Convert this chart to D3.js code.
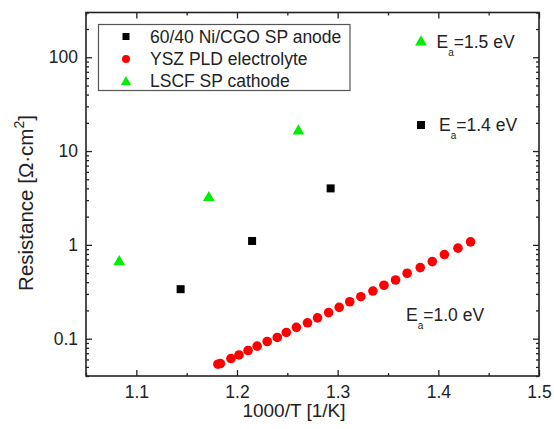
<!DOCTYPE html>
<html>
<head>
<meta charset="utf-8">
<script src="https://cdn.jsdelivr.net/npm/d3@7"></script>
<style>
  body { margin: 0; background: #fff; }
  text { font-family: Arial, "Liberation Sans", sans-serif; fill: #222; }
</style>
</head>
<body>
<div id="chart"></div>
<script>
// 1000/T [1/K] vs area specific resistance
const anodeX = [1.144, 1.215, 1.293];
const anodeY = [0.337, 1.10, 4.0];

const cathodeX = [1.083, 1.172, 1.261];
const cathodeY = [0.676, 3.26, 16.7];

const electrolyteX = [1.181, 1.1835, 1.194, 1.202, 1.211, 1.220, 1.230, 1.240, 1.249,
  1.259, 1.270, 1.280, 1.291, 1.3015, 1.312, 1.323, 1.335, 1.346, 1.3575, 1.369,
  1.382, 1.394, 1.406, 1.4195, 1.432];
const electrolyteY = [0.0534, 0.0543, 0.0614, 0.0671, 0.0748, 0.0832, 0.0933, 0.103, 0.1165,
  0.132, 0.1476, 0.1668, 0.1897, 0.2157, 0.2475, 0.280, 0.322, 0.371, 0.422, 0.498,
  0.572, 0.663, 0.788, 0.922, 1.077];

const xTicks = [1.1, 1.2, 1.3, 1.4, 1.5];
const xMinor = [1.05, 1.15, 1.25, 1.35, 1.45];
const yTicks = [0.1, 1, 10, 100];

const legendLabels = ["60/40 Ni/CGO SP anode", "YSZ PLD electrolyte", "LSCF SP cathode"];

const margin = { top: 12.5, right: 15, bottom: 53, left: 86 };
const W = 554, H = 429;
const width = W - margin.left - margin.right;
const height = H - margin.top - margin.bottom;
const fs = 17.5;

const svg = d3.select("#chart")
    .append("svg")
    .attr("width", W)
    .attr("height", H);

const g = svg.append("g")
    .attr("transform", `translate(${margin.left},${margin.top})`);

const x = d3.scaleLinear().domain([1.05, 1.5]).range([0, width]);
const y = d3.scaleLog().domain([0.04, 300]).range([height, 0]);

// minor ticks for the log axis: 2..9 of every decade
const yMinor = [];
[0.01, 0.1, 1, 10, 100].forEach(d => {
    for (let k = 2; k <= 9; k++) {
        const v = d * k;
        if (v >= 0.04 && v <= 300) yMinor.push(v);
    }
});

const fmt = d => (d < 1 ? d3.format(".1f")(d) : d3.format("d")(d));

// axes, ticks pointing inward
g.append("g")
    .attr("class", "axis")
    .attr("transform", `translate(0,${height})`)
    .call(d3.axisBottom(x).tickValues(xTicks).tickSize(-6).tickPadding(10).tickFormat(d3.format(".1f")));
g.append("g")
    .attr("class", "axis minor")
    .attr("transform", `translate(0,${height})`)
    .call(d3.axisBottom(x).tickValues(xMinor).tickSize(-3).tickFormat(""));
g.append("g")
    .attr("class", "axis")
    .call(d3.axisTop(x).tickValues(xTicks).tickSize(-6).tickFormat(""));
g.append("g")
    .attr("class", "axis minor")
    .call(d3.axisTop(x).tickValues(xMinor).tickSize(-3).tickFormat(""));

g.append("g")
    .attr("class", "axis")
    .call(d3.axisLeft(y).tickValues(yTicks).tickSize(-6).tickPadding(8).tickFormat(fmt));
g.append("g")
    .attr("class", "axis minor")
    .call(d3.axisLeft(y).tickValues(yMinor).tickSize(-3).tickFormat(""));
g.append("g")
    .attr("class", "axis")
    .attr("transform", `translate(${width},0)`)
    .call(d3.axisRight(y).tickValues(yTicks).tickSize(-6).tickFormat(""));
g.append("g")
    .attr("class", "axis minor")
    .attr("transform", `translate(${width},0)`)
    .call(d3.axisRight(y).tickValues(yMinor).tickSize(-3).tickFormat(""));

g.selectAll(".axis .domain").remove();
g.selectAll(".axis line").attr("stroke", "#222").attr("stroke-width", 1.3);
g.selectAll(".axis text").attr("font-size", fs).style("fill", "#222");

g.append("rect")
    .attr("width", width)
    .attr("height", height)
    .attr("fill", "none")
    .attr("stroke", "#222")
    .attr("stroke-width", 1.6);

// axis titles
svg.append("text")
    .attr("x", 294)
    .attr("y", 417)
    .attr("text-anchor", "middle")
    .attr("font-size", 19)
    .text("1000/T [1/K]");

const yt = svg.append("text")
    .attr("transform", "translate(33,203) rotate(-90)")
    .attr("text-anchor", "middle")
    .attr("font-size", 20.5);
yt.append("tspan").text("Resistance [Ω·cm");
yt.append("tspan").attr("dy", -9).attr("font-size", 14).text("2");
yt.append("tspan").attr("dy", 9).text("]");

const tri = d3.symbol().type(d3.symbolTriangle);

// data
g.selectAll(".elec")
    .data(electrolyteX)
    .enter()
    .append("circle")
    .attr("cx", d => x(d))
    .attr("cy", (d, i) => y(electrolyteY[i]))
    .attr("r", 4.8)
    .attr("fill", "#ff0000");

g.selectAll(".anode")
    .data(anodeX)
    .enter()
    .append("rect")
    .attr("x", d => x(d) - 4)
    .attr("y", (d, i) => y(anodeY[i]) - 4)
    .attr("width", 8)
    .attr("height", 8)
    .attr("fill", "#000");

g.selectAll(".cath")
    .data(cathodeX)
    .enter()
    .append("path")
    .attr("d", tri.size(60))
    .attr("transform", (d, i) => `translate(${x(d)},${y(cathodeY[i]) + 1})`)
    .attr("fill", "#00ee00");

// legend
const lg = svg.append("g");
lg.append("rect")
    .attr("x", 98.5).attr("y", 24.5)
    .attr("width", 251.5).attr("height", 66)
    .attr("fill", "#fff")
    .attr("stroke", "#555")
    .attr("stroke-width", 1.2);
const rowY = [36.5, 59, 81];
lg.append("rect").attr("x", 122.5).attr("y", rowY[0] - 3.5).attr("width", 7).attr("height", 7).attr("fill", "#000");
lg.append("circle").attr("cx", 126).attr("cy", rowY[1]).attr("r", 4).attr("fill", "#ff0000");
lg.append("path").attr("d", tri.size(45)).attr("transform", `translate(126,${rowY[2] + 1})`).attr("fill", "#00ee00");
legendLabels.forEach((t, i) => {
    lg.append("text")
        .attr("x", 150)
        .attr("y", rowY[i] + 6.3)
        .attr("font-size", fs)
        .text(t);
});

// activation energy notes
function ea(xp, yp, val) {
    const t = svg.append("text").attr("x", xp).attr("y", yp).attr("font-size", fs);
    t.append("tspan").text("E");
    t.append("tspan").attr("dy", 8).attr("font-size", 10).text("a");
    t.append("tspan").attr("dy", -8).text("=" + val + " eV");
}
svg.append("path").attr("d", tri.size(60)).attr("transform", "translate(421,42)").attr("fill", "#00ee00");
ea(436.5, 47.5, "1.5");
svg.append("rect").attr("x", 417).attr("y", 121).attr("width", 8).attr("height", 8).attr("fill", "#000");
ea(439, 131, "1.4");
ea(406, 321, "1.0");
</script>
</body>
</html>
